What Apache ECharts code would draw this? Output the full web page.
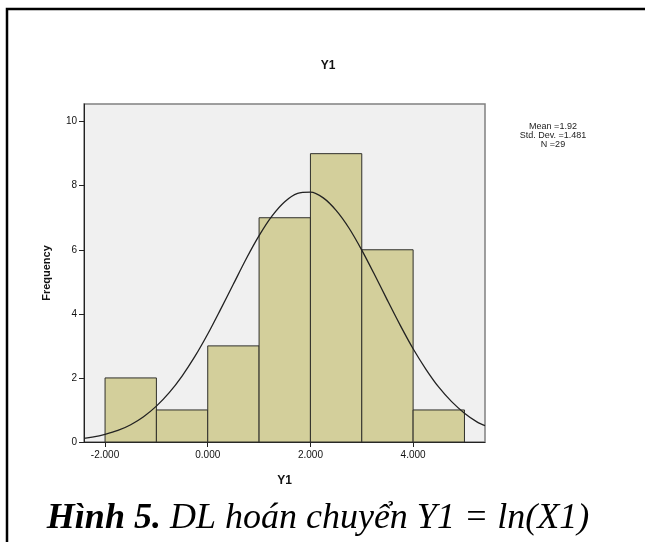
<!DOCTYPE html>
<html lang="vi">
<head>
<meta charset="utf-8">
<title>Y1 histogram</title>
<script src="https://cdn.jsdelivr.net/npm/echarts@6/dist/echarts.min.js"></script>
<style>
  html, body { margin: 0; padding: 0; background: #fff; }
  #main { width: 645px; height: 542px; }
</style>
</head>
<body>
<div id="main"></div>
<script type="text/javascript">
  // bins (left edges, width 1) and frequencies
  var binStarts = [-2, -1, 0, 1, 2, 3, 4];
  var binWidth = 1;
  var counts = [2, 1, 3, 7, 9, 6, 1];

  // normal curve, points
  var curveX = [-2.41, -2.25, -2, -1.75, -1.5, -1.25, -1, -0.75, -0.5, -0.25, 0, 0.25, 0.5, 0.75, 1, 1.25, 1.5, 1.75, 2,
                2.25, 2.5, 2.75, 3, 3.25, 3.5, 3.75, 4, 4.25, 4.5, 4.75, 5, 5.25, 5.4];
  var curveY = [0.11, 0.15, 0.24, 0.36, 0.54, 0.79, 1.12, 1.54, 2.06, 2.67, 3.37, 4.14, 4.93, 5.72, 6.44, 7.05, 7.50, 7.76, 7.80,
                7.62, 7.23, 6.68, 5.99, 5.22, 4.42, 3.64, 2.91, 2.27, 1.71, 1.26, 0.90, 0.62, 0.51];

  var xTicks = [-2, 0, 2, 4];
  var yTicks = [0, 2, 4, 6, 8, 10];
  var statLines = ['Mean =1.92', 'Std. Dev. =1.481', 'N =29'];

  var myChart = echarts.init(document.getElementById('main'));

  var barData = [];
  for (var i = 0; i < binStarts.length; i++) {
    barData.push([binStarts[i], binStarts[i] + binWidth, counts[i]]);
  }
  var lineData = curveX.map(function (x, i) { return [x, curveY[i]]; });

  var font = "'Liberation Sans', Arial, sans-serif";
  var serif = "'Liberation Serif', 'Times New Roman', serif";

  var option = {
    animation: false,
    grid: {
      left: 84, right: 160, top: 104, bottom: 100,
      show: true,
      backgroundColor: '#f0f0f0',
      borderColor: '#808080',
      borderWidth: 1.5
    },
    xAxis: {
      type: 'value',
      min: -2.41,
      max: 5.4,
      name: 'Y1',
      nameLocation: 'middle',
      nameGap: 33,
      nameTextStyle: { fontFamily: font, fontSize: 12, fontWeight: 'bold', color: '#111' },
      axisLine: { onZero: false, lineStyle: { color: '#222', width: 1 } },
      axisTick: { show: true, length: 5, customValues: xTicks, lineStyle: { color: '#222' } },
      axisLabel: {
        customValues: xTicks,
        margin: 8,
        fontFamily: font, fontSize: 10, color: '#111',
        formatter: function (v) { return v.toFixed(3); }
      },
      splitLine: { show: false }
    },
    yAxis: {
      type: 'value',
      min: 0,
      max: 10.55,
      name: 'Frequency',
      nameLocation: 'middle',
      nameRotate: 90,
      nameGap: 32,
      nameTextStyle: { fontFamily: font, fontSize: 11, fontWeight: 'bold', color: '#111' },
      axisLine: { show: true, onZero: false, lineStyle: { color: '#222', width: 1 } },
      axisTick: { show: true, length: 5, customValues: yTicks, lineStyle: { color: '#222' } },
      axisLabel: { customValues: yTicks, margin: 7, fontFamily: font, fontSize: 10, color: '#111' },
      splitLine: { show: false }
    },
    series: [
      {
        type: 'custom',
        data: barData,
        encode: { x: [0, 1], y: 2 },
        renderItem: function (params, api) {
          var p0 = api.coord([api.value(0), api.value(2)]);
          var p1 = api.coord([api.value(1), 0]);
          return {
            type: 'rect',
            shape: { x: p0[0], y: p0[1], width: p1[0] - p0[0], height: p1[1] - p0[1] },
            style: { fill: '#d3cf9b', stroke: '#2f2f2a', lineWidth: 1 }
          };
        }
      },
      {
        type: 'line',
        data: lineData,
        smooth: 0.3,
        showSymbol: false,
        lineStyle: { color: '#222', width: 1.3 },
        z: 5
      }
    ],
    graphic: [
      {
        type: 'rect',
        shape: { x: 7, y: 9, width: 700, height: 600 },
        style: { fill: 'none', stroke: '#000', lineWidth: 2.5 },
        silent: true
      },
      {
        type: 'text',
        x: 328, y: 66,
        style: {
          text: 'Y1', fontFamily: font, fontSize: 12, fontWeight: 'bold',
          fill: '#111', textAlign: 'center', textVerticalAlign: 'middle'
        }
      },
      {
        type: 'text',
        x: 553, y: 136,
        style: {
          text: statLines.join('\n'), fontFamily: font, fontSize: 9, lineHeight: 9,
          fill: '#222', textAlign: 'center', textVerticalAlign: 'middle'
        }
      },
      {
        type: 'text',
        x: 318, y: 519,
        style: {
          text: '{b|Hình 5.} {i|DL hoán chuyển Y1 = ln(X1)}',
          textAlign: 'center', textVerticalAlign: 'middle',
          font: "italic 36px 'Liberation Serif', serif",
          rich: {
            b: { fontFamily: serif, fontSize: 36, fontWeight: 'bold', fontStyle: 'italic', fill: '#000' },
            i: { fontFamily: serif, fontSize: 36, fontStyle: 'italic', fill: '#000' }
          }
        }
      }
    ]
  };
  myChart.setOption(option);
</script>
</body>
</html>
